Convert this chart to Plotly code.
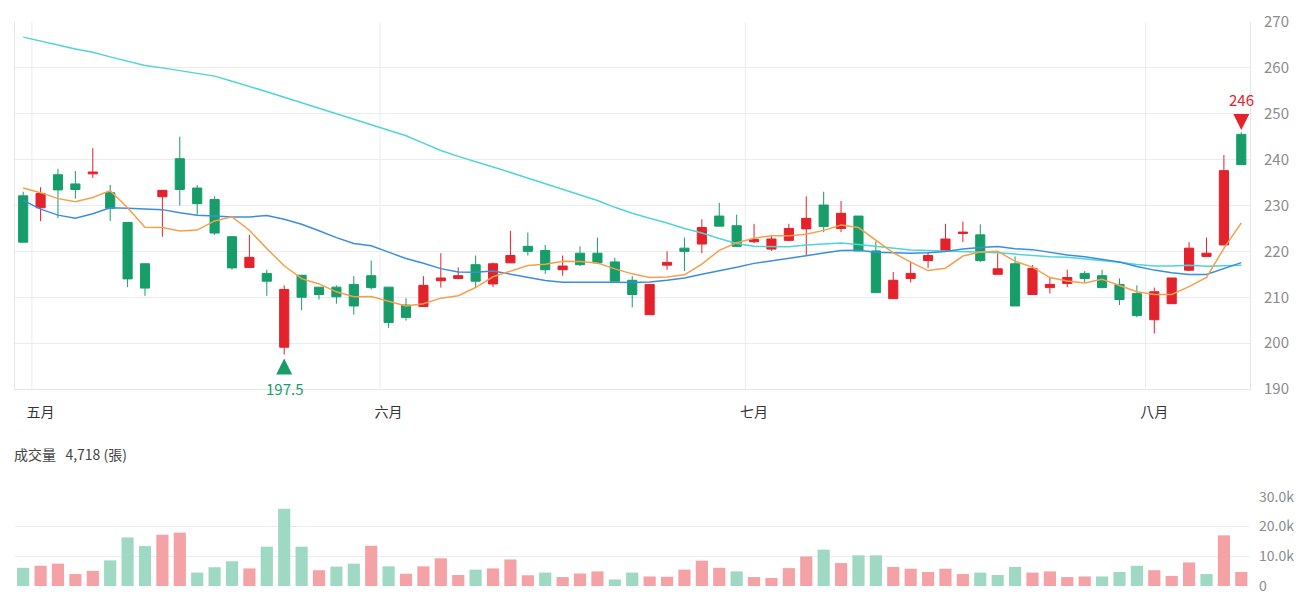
import plotly.graph_objects as go

# ---------------- data ----------------
month_labels = ["五月", "六月", "七月", "八月"]
month_start = [1, 21, 42, 65]          # index of first trading day of each month

open_ = [232.1, 229.5, 236.7, 234.7, 236.9, 232.8, 226.3, 217.3, 231.9, 240.2,
         233.8, 231.3, 223.2, 216.5, 215.2, 199.1, 214.8, 212.2, 212.2, 212.8,
         214.7, 212.2, 208.3, 208.0, 213.6, 214.1, 217.1, 212.9, 217.5, 221.1,
         220.2, 216.0, 219.6, 219.6, 217.7, 213.7, 206.2, 217.0, 220.7, 221.6,
         227.7, 225.6, 222.1, 220.5, 222.4, 224.9, 230.1, 225.0, 227.7, 220.1,
         209.7, 214.1, 218.0, 220.0, 223.9, 223.6, 215.0, 217.3, 210.6, 212.1,
         213.0, 215.2, 214.7, 212.8, 210.8, 205.1, 208.6, 215.9, 218.9, 221.4,
         245.5]
high = [233.0, 234.0, 238.0, 237.5, 242.5, 234.5, 226.3, 217.3, 233.3, 245.0,
        234.5, 232.0, 223.2, 223.6, 216.0, 212.6, 214.8, 212.2, 212.6, 214.6,
        218.0, 212.2, 209.8, 214.6, 219.6, 216.5, 219.1, 217.6, 224.5, 224.1,
        221.4, 219.1, 221.1, 223.0, 218.6, 214.6, 212.8, 220.0, 223.0, 227.0,
        230.6, 228.0, 226.0, 223.5, 226.0, 232.0, 233.0, 231.0, 227.7, 222.2,
        215.5, 217.8, 219.8, 226.0, 226.5, 225.9, 219.6, 218.9, 217.0, 214.2,
        216.0, 215.7, 216.0, 214.1, 212.6, 212.1, 214.2, 222.0, 223.0, 241.0,
        246.0]
low = [222.0, 226.6, 227.2, 231.5, 236.0, 226.6, 212.2, 210.3, 223.2, 230.0,
       228.0, 223.6, 216.0, 216.5, 210.3, 197.5, 207.2, 209.5, 208.6, 206.2,
       211.7, 203.3, 204.9, 208.0, 212.1, 213.9, 212.2, 212.2, 217.5, 219.1,
       215.1, 214.7, 216.8, 217.3, 213.5, 207.8, 206.2, 216.0, 215.7, 219.6,
       225.5, 221.1, 221.8, 220.1, 222.2, 219.1, 224.2, 224.2, 220.1, 211.0,
       209.7, 213.2, 216.4, 220.0, 222.0, 217.7, 215.0, 208.1, 210.6, 210.8,
       212.2, 213.2, 212.1, 208.3, 205.6, 202.1, 208.6, 215.7, 218.9, 221.4,
       238.9]
close = [222.0, 232.6, 233.4, 233.5, 237.3, 229.4, 214.0, 212.0, 233.3, 233.5,
         230.4, 224.0, 216.4, 218.7, 213.5, 211.7, 210.0, 210.6, 210.1, 208.1,
         212.1, 204.5, 205.6, 212.6, 214.2, 214.7, 213.5, 217.3, 219.1, 220.0,
         216.0, 216.8, 217.1, 217.5, 213.5, 210.6, 212.8, 217.6, 220.0, 225.2,
         225.5, 221.1, 222.6, 222.7, 225.0, 227.2, 225.4, 228.3, 220.1, 211.0,
         213.7, 215.2, 219.1, 222.7, 224.2, 218.0, 216.2, 208.1, 216.3, 212.8,
         214.3, 214.1, 212.1, 209.5, 206.0, 211.2, 214.2, 220.7, 219.6, 237.6,
         238.9]
volume = [6100, 6800, 7500, 4000, 5100, 8600, 16300, 13400, 17200, 17900,
          4500, 6300, 8300, 5900, 13200, 25900, 13200, 5300, 6500, 7500,
          13500, 6600, 4100, 6600, 9300, 3700, 5500, 5900, 8900, 3600,
          4500, 3000, 4200, 4900, 2200, 4500, 3200, 3100, 5500, 8500,
          6100, 4900, 3000, 2700, 6000, 9900, 12200, 7700, 10300, 10300,
          6400, 5800, 4700, 5800, 4000, 4500, 3700, 6400, 4500, 4900,
          3000, 3200, 3200, 4700, 6800, 5300, 3400, 7900, 4000, 17000,
          4718]
# 1 = up day (red volume bar), 0 = down day (green volume bar)
volume_up = [0, 1, 1, 1, 1, 0, 0, 0, 1, 1,
             0, 0, 0, 1, 0, 0, 0, 1, 0, 0,
             1, 0, 1, 1, 1, 1, 0, 1, 1, 1,
             0, 1, 1, 1, 0, 0, 1, 1, 1, 1,
             1, 0, 1, 1, 1, 1, 0, 1, 0, 0,
             1, 1, 1, 1, 1, 0, 0, 0, 1, 1,
             1, 1, 0, 0, 0, 1, 1, 1, 0, 1,
             1]

# moving-average values before enough history is in the window
ma5_head = [233.8, 232.8, 231.5, 230.8]
ma20_head = [231.1, 229.2, 227.9, 227.2, 228.2, 229.5, 229.4, 229.3, 229.1, 228.4,
             227.9, 227.7, 227.5, 227.5, 227.8, 227.0, 225.9, 224.5, 223.0]
ma60_head = [266.7, 265.9, 265.0, 264.1, 263.4, 262.4, 261.4, 260.5, 260.0, 259.4,
             258.8, 258.2, 257.1, 256.0, 254.8, 253.6, 252.4, 251.2, 250.0, 248.8,
             247.6, 246.4, 245.2, 243.6, 242.0, 240.7, 239.6, 238.4, 237.2, 236.0,
             234.8, 233.6, 232.4, 231.1, 229.6, 228.3, 227.2, 226.2, 225.0, 224.0,
             222.8, 221.7, 221.1, 221.0, 221.0, 221.4, 221.6, 221.8, 221.5, 221.1,
             220.6, 220.3, 220.2, 220.1, 220.0, 219.9, 219.7, 219.4, 219.1]

y_ticks = [190, 200, 210, 220, 230, 240, 250, 260, 270]
vol_tickvals = [0, 10000, 20000, 30000]
vol_ticktext = ["0", "10.0k", "20.0k", "30.0k"]


def moving_average(values, n, head):
    out = []
    for i in range(len(values)):
        if i >= n - 1:
            out.append(sum(values[i - n + 1:i + 1]) / n)
        else:
            out.append(head[i])
    return out


x = list(range(len(close)))
ma5 = moving_average(close, 5, ma5_head)
ma20 = moving_average(close, 20, ma20_head)
ma60 = moving_average(close, 60, ma60_head)

# ---------------- styles ----------------
RED = "#e3222c"
GREEN = "#169d6a"
VOL_RED = "#f4a2a5"
VOL_GREEN = "#9fd9c3"
GRID = "#e9ecf3"
FONT = "Noto Sans CJK TC, Noto Sans, sans-serif"

W, H = 1300, 600
M_L, M_R, M_T, M_B = 15, 50, 22, 14
main_dom = [0.3493, 1.0]
vol_dom = [0.0, 0.1585]
y_range = [min(y_ticks), max(y_ticks)]
x_range = [-0.47, len(close) - 0.5]

fig = go.Figure()

fig.add_trace(go.Candlestick(
    x=x, open=open_, high=high, low=low, close=close,
    increasing=dict(line=dict(color=RED, width=1), fillcolor=RED),
    decreasing=dict(line=dict(color=GREEN, width=1), fillcolor=GREEN),
    whiskerwidth=0, xaxis="x", yaxis="y", showlegend=False, hoverinfo="skip",
))

for vals, col in [(ma60, "#4fd5d3"), (ma20, "#3a8ee0"), (ma5, "#f5a04c")]:
    fig.add_trace(go.Scatter(x=x, y=vals, mode="lines",
                             line=dict(color=col, width=1.5),
                             xaxis="x", yaxis="y", showlegend=False, hoverinfo="skip"))

fig.add_trace(go.Bar(
    x=x, y=volume,
    marker=dict(color=[VOL_RED if u else VOL_GREEN for u in volume_up], line=dict(width=0)),
    xaxis="x2", yaxis="y2", showlegend=False, hoverinfo="skip",
))

# max / min markers
imax = max(range(len(high)), key=lambda i: high[i])
imin = min(range(len(low)), key=lambda i: low[i])
main_px = (main_dom[1] - main_dom[0]) * (H - M_T - M_B)
unit_per_px = (y_range[1] - y_range[0]) / main_px

fig.add_trace(go.Scatter(
    x=[imax], y=[high[imax] + 2 * unit_per_px], mode="markers",
    marker=dict(symbol="arrow-down", size=16, color=RED, line=dict(width=0)),
    xaxis="x", yaxis="y", showlegend=False, hoverinfo="skip"))
fig.add_trace(go.Scatter(
    x=[imin], y=[low[imin] - 4 * unit_per_px], mode="markers",
    marker=dict(symbol="arrow-up", size=16, color=GREEN, line=dict(width=0)),
    xaxis="x", yaxis="y", showlegend=False, hoverinfo="skip"))

annotations = [
    dict(x=imax, y=high[imax], xref="x", yref="y", text=f"{high[imax]:g}", showarrow=False,
         yshift=33, font=dict(color=RED, size=15, family=FONT)),
    dict(x=imin, y=low[imin], xref="x", yref="y", text=f"{low[imin]:g}", showarrow=False,
         yshift=-34, font=dict(color=GREEN, size=15, family=FONT)),
    dict(x=-0.0025, y=(586 - 454) / (H - M_T - M_B), xref="paper", yref="paper",
         xanchor="left", yanchor="middle", showarrow=False,
         text=f"成交量\u00a0\u00a0\u00a0{volume[-1]:,} (張)",
         font=dict(color="#444444", size=14, family=FONT)),
]

shapes = [dict(type="line", xref="x", yref="y domain", x0=s - 0.5, x1=s - 0.5, y0=0, y1=1,
               line=dict(color=GRID, width=1), layer="below") for s in month_start]

fig.update_layout(
    width=W, height=H,
    margin=dict(l=M_L, r=M_R, t=M_T, b=M_B),
    paper_bgcolor="white", plot_bgcolor="white",
    font=dict(family=FONT, color="#8c8c8c"),
    bargap=0.3,
    boxgap=0.25,
    showlegend=False,
    hovermode=False,
    annotations=annotations,
    shapes=shapes,
    xaxis=dict(domain=[0, 1], anchor="y", range=x_range, rangeslider=dict(visible=False),
               tickvals=month_start, ticktext=month_labels, showgrid=False, zeroline=False,
               showline=True, linecolor="#e3e6ee", linewidth=1, ticks="", automargin=False,
               ticklabelstandoff=10, tickfont=dict(size=14, color="#333333", family=FONT)),
    yaxis=dict(domain=main_dom, anchor="x", side="right", range=y_range, tickvals=y_ticks,
               showgrid=True, gridcolor=GRID, gridwidth=1, zeroline=False, automargin=False,
               showline=True, mirror=True, linecolor="#e3e6ee", linewidth=1, ticks="",
               ticklabelstandoff=10, tickfont=dict(size=15, color="#8c8c8c", family=FONT)),
    xaxis2=dict(domain=[0, 1], anchor="y2", matches="x", range=x_range, showticklabels=False,
                showgrid=False, zeroline=False, showline=False, ticks="", automargin=False),
    yaxis2=dict(domain=vol_dom, anchor="x2", side="right", range=[0, 30000], automargin=False,
                tickvals=vol_tickvals, ticktext=vol_ticktext, showgrid=True, gridcolor=GRID,
                zeroline=False, showline=False, ticks="", ticklabelstandoff=8,
                tickfont=dict(size=14, color="#8c8c8c", family=FONT)),
)

fig.write_html("out.html")
